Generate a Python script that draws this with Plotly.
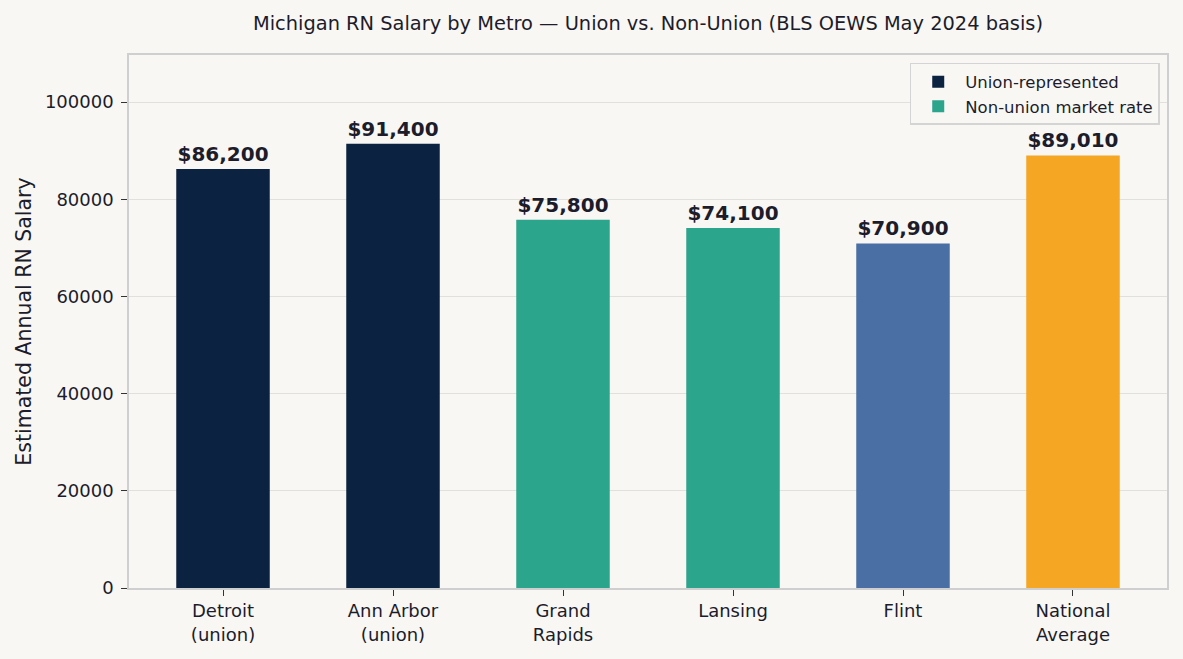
import plotly.graph_objects as go

# Michigan RN salaries by metro (BLS OEWS May 2024 basis)
metros = ['Detroit<br>(union)', 'Ann Arbor<br>(union)', 'Grand<br>Rapids', 'Lansing', 'Flint', 'National<br>Average']
salaries = [86200, 91400, 75800, 74100, 70900, 89010]
groups = ['union', 'union', 'nonunion', 'nonunion', 'flint', 'national']

colores = {'union': '#0B2341', 'nonunion': '#2CA58D', 'flint': '#4A6FA5', 'national': '#F5A623'}
nombres = {'union': 'Union-represented', 'nonunion': 'Non-union market rate', 'flint': 'Flint', 'national': 'National'}
en_leyenda = {'union': True, 'nonunion': True, 'flint': False, 'national': False}

fondo = '#F8F7F4'
texto = '#1C1C2B'

fig = go.Figure()
for g in ['union', 'nonunion', 'flint', 'national']:
    xs = [m for m, gg in zip(metros, groups) if gg == g]
    ys = [s for s, gg in zip(salaries, groups) if gg == g]
    fig.add_bar(x=xs, y=ys, name=nombres[g], showlegend=en_leyenda[g],
                marker=dict(color=colores[g], line=dict(width=0)), width=0.55,
                text=[f'${v:,}' for v in ys], textposition='outside', cliponaxis=False,
                textfont=dict(family='DejaVu Sans', size=20, color=texto, weight='bold'))

fig.update_layout(
    width=1183, height=659, barmode='overlay',
    paper_bgcolor=fondo, plot_bgcolor=fondo,
    margin=dict(l=129, r=16, t=55, b=71),
    font=dict(family='DejaVu Sans', size=18, color=texto),
    title=dict(text='Michigan RN Salary by Metro \u2014 Union vs. Non-Union (BLS OEWS May 2024 basis)',
               x=0.5, xref='paper', xanchor='center', y=0.965, yanchor='middle',
               font=dict(size=19.4, color=texto)),
    legend=dict(x=0.993, y=0.985, xanchor='right', yanchor='top',
                bgcolor=fondo, bordercolor='#D4D4D4', borderwidth=1.5,
                font=dict(size=16.5, color=texto), traceorder='normal',
                itemwidth=44, tracegroupgap=0),
)
fig.update_xaxes(categoryorder='array', categoryarray=metros, range=[-0.553, 5.553],
                 showline=True, linecolor='#CFCFCF', linewidth=1.5, mirror=True,
                 ticks='outside', ticklen=6, tickcolor='#333333', tickwidth=1.2,
                 showgrid=False, tickfont=dict(size=18, color=texto))
fig.update_yaxes(range=[0, 109680], tickvals=[0, 20000, 40000, 60000, 80000, 100000], tickformat='d',
                 showline=True, linecolor='#CFCFCF', linewidth=1.5, mirror=True,
                 ticks='outside', ticklen=6, tickcolor='#333333', tickwidth=1.2, ticklabelstandoff=4,
                 showgrid=True, gridcolor='#E2E0DC', gridwidth=1.2, zeroline=False,
                 tickfont=dict(size=18, color=texto),
                 title=dict(text='Estimated Annual RN Salary', font=dict(size=20.5, color=texto), standoff=8))

fig.write_html('out.html', config={'displayModeBar': False},
               post_script="document.body.style.margin='0';")
